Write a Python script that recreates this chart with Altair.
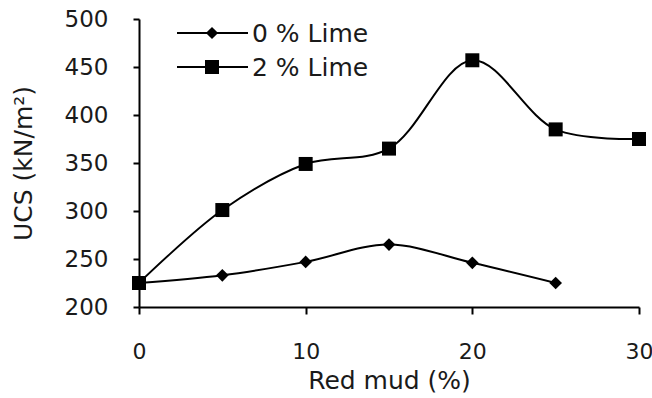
import altair as alt
import pandas as pd

red_mud = [0, 5, 10, 15, 20, 25, 30]
ucs_0_lime = [225, 233, 247, 265, 246, 225]
ucs_2_lime = [225, 301, 349, 365, 457, 385, 375]
series = ["0 % Lime", "2 % Lime"]
x_ticks = [0, 10, 20, 30]
y_ticks = [200, 250, 300, 350, 400, 450, 500]

rows = []
for xv, v in zip(red_mud, ucs_0_lime):
    rows.append({"x": xv, "ucs": v, "s": series[0]})
for xv, v in zip(red_mud, ucs_2_lime):
    rows.append({"x": xv, "ucs": v, "s": series[1]})
df = pd.DataFrame(rows)

FONT = "DejaVu Sans"
TXT = "#1a1a1a"

xenc = alt.X(
    "x:Q",
    scale=alt.Scale(domain=[0, 30], nice=False, zero=False),
    axis=alt.Axis(
        values=x_ticks, title="Red mud (%)", grid=False, format="d",
        tickSize=7, tickWidth=2, domainWidth=2, domainColor="black", tickColor="black",
        labelPadding=27, labelFontSize=22, labelFont=FONT, labelColor=TXT,
        titleFontSize=25, titleFont=FONT, titleFontWeight="normal", titleColor=TXT,
        titlePadding=6, labelFlush=False,
    ),
)
yenc = alt.Y(
    "ucs:Q",
    scale=alt.Scale(domain=[200, 500], nice=False, zero=False),
    axis=alt.Axis(
        values=y_ticks, title="UCS (kN/m²)", grid=False, format="d",
        tickSize=6, tickWidth=2, domainWidth=2, domainColor="black", tickColor="black",
        labelPadding=25, labelFontSize=23, labelFont=FONT, labelColor=TXT,
        titleFontSize=25, titleFont=FONT, titleFontWeight="normal", titleColor=TXT,
        titlePadding=28, labelFlush=False,
    ),
)

lines = alt.Chart(df).mark_line(
    interpolate="catmull-rom", color="black", strokeWidth=2
).encode(x=xenc, y=yenc, detail="s:N")

pts = alt.Chart(df).mark_point(filled=True, color="black", opacity=1).encode(
    x=xenc,
    y=yenc,
    shape=alt.Shape("s:N", scale=alt.Scale(domain=series, range=["diamond", "square"]), legend=None),
    size=alt.Size("s:N", scale=alt.Scale(domain=series, range=[160, 196]), legend=None),
)

legend_layers = []
legend_rows = [(series[0], 14, "diamond", 150), (series[1], 48, "square", 196)]
for name, yy, shp, sz in legend_rows:
    ldf = pd.DataFrame({"s": [name]})
    legend_layers.append(
        alt.Chart(ldf).mark_rule(color="black", strokeWidth=2).encode(
            x=alt.value(38), x2=alt.value(109), y=alt.value(yy)
        )
    )
    legend_layers.append(
        alt.Chart(ldf).mark_point(filled=True, color="black", opacity=1, shape=shp, size=sz).encode(
            x=alt.value(73), y=alt.value(yy)
        )
    )
    legend_layers.append(
        alt.Chart(ldf).mark_text(
            align="left", baseline="middle", fontSize=25, font=FONT,
            fontWeight="normal", color=TXT
        ).encode(text="s:N", x=alt.value(113), y=alt.value(yy + 1))
    )

chart = alt.layer(lines, pts, *legend_layers).properties(
    width=500,
    height=288,
    autosize=alt.AutoSizeParams(type="none"),
    padding={"left": 139, "top": 19, "right": 13, "bottom": 91},
    background="white",
).configure_view(stroke=None)

chart.save("out.html", embed_options={"renderer": "svg", "actions": False})
